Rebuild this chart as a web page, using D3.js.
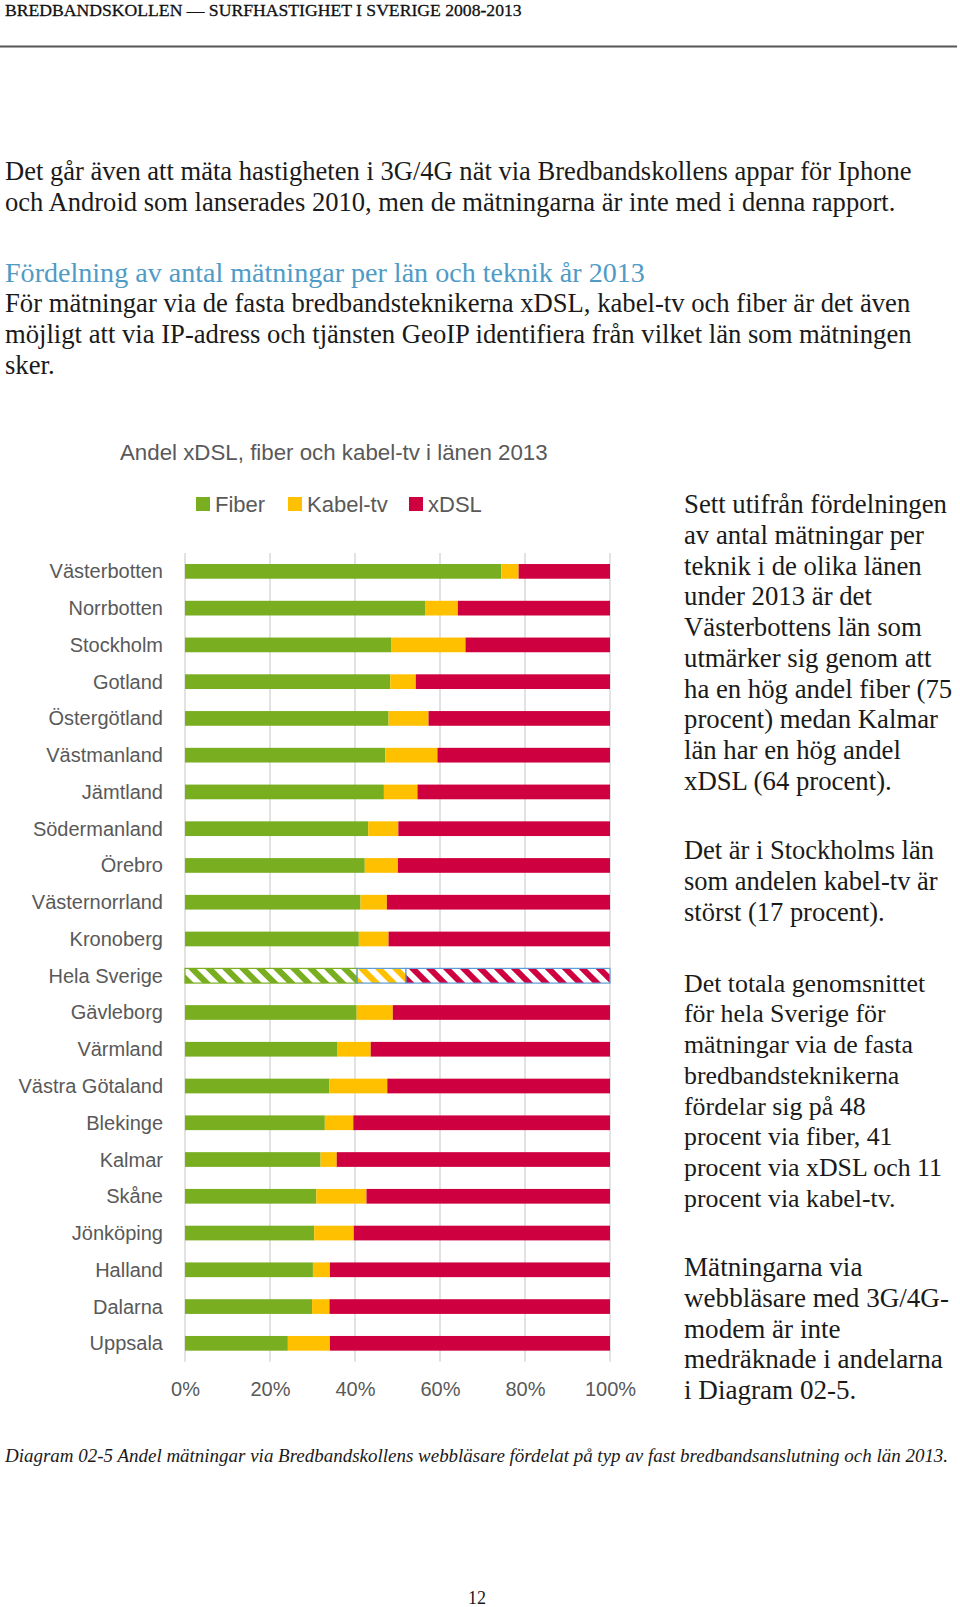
<!DOCTYPE html>
<html>
<head>
<meta charset="utf-8">
<script src="https://cdn.jsdelivr.net/npm/d3@7"></script>
<style>
  html, body { margin: 0; padding: 0; background: #fff; }
  svg { display: block; }
</style>
</head>
<body>
<svg id="page" width="960" height="1607"></svg>
<script>
// ---------- DATA ----------
const categories = ["Västerbotten","Norrbotten","Stockholm","Gotland","Östergötland","Västmanland","Jämtland","Södermanland","Örebro","Västernorrland","Kronoberg","Hela Sverige","Gävleborg","Värmland","Västra Götaland","Blekinge","Kalmar","Skåne","Jönköping","Halland","Dalarna","Uppsala"];
const fiber = [74.4,56.6,48.6,48.3,47.9,47.1,46.8,43.1,42.3,41.3,40.9,40.5,40.4,35.9,34.0,32.9,31.9,30.9,30.4,30.1,29.9,24.2];
const kabel = [4.1,7.6,17.4,6.0,9.4,12.3,7.9,7.1,7.8,6.2,7.0,11.5,8.5,7.8,13.6,6.7,3.8,11.8,9.3,4.0,4.1,9.9];
const xdsl  = [21.5,35.8,34.0,45.7,42.7,40.6,45.3,49.8,49.9,52.5,52.1,48.0,51.1,56.3,52.4,60.4,64.3,57.3,60.3,65.9,66.0,65.9];
const seriesNames = ["Fiber","Kabel-tv","xDSL"];
const seriesColors = ["#78ae20","#ffc000","#cf003f"];
const xTicks = [0,0.2,0.4,0.6,0.8,1.0];
const highlight = "Hela Sverige";

const headerText = "BREDBANDSKOLLEN — SURFHASTIGHET I SVERIGE 2008-2013";
const para1 = ["Det går även att mäta hastigheten i 3G/4G nät via Bredbandskollens appar för Iphone",
               "och Android som lanserades 2010, men de mätningarna är inte med i denna rapport."];
const heading = "Fördelning av antal mätningar per län och teknik år 2013";
const para2 = ["För mätningar via de fasta bredbandsteknikerna xDSL, kabel-tv och fiber är det även",
               "möjligt att via IP-adress och tjänsten GeoIP identifiera från vilket län som mätningen",
               "sker."];
const chartTitle = "Andel xDSL, fiber och kabel-tv i länen 2013";
const sideParas = [
  ["Sett utifrån fördelningen","av antal mätningar per","teknik i de olika länen","under 2013 är det","Västerbottens län som","utmärker sig genom att","ha en hög andel fiber (75","procent) medan Kalmar","län har en hög andel","xDSL (64 procent)."],
  ["Det är i Stockholms län","som andelen kabel-tv är","störst (17 procent)."],
  ["Det totala genomsnittet","för hela Sverige för","mätningar via de fasta","bredbandsteknikerna","fördelar sig på 48","procent via fiber, 41","procent via xDSL och 11","procent via kabel-tv."],
  ["Mätningarna via","webbläsare med 3G/4G-","modem är inte","medräknade i andelarna","i Diagram 02-5."]
];
const caption = "Diagram 02-5 Andel mätningar via Bredbandskollens webbläsare fördelat på typ av fast bredbandsanslutning och län 2013.";
const pageNumber = "12";

// ---------- PAGE ----------
const svg = d3.select("#page");
const SERIF = "'Liberation Serif','DejaVu Serif',serif";
const SANS = "'Liberation Sans',Arial,Helvetica,sans-serif";

function fitSize(textSel, target) {
  const w = textSel.node().getComputedTextLength();
  const fs = parseFloat(textSel.attr("font-size"));
  return fs * target / w;
}

// header
const hdr = svg.append("text").attr("x", 5).attr("y", 16)
  .attr("font-family", SERIF).attr("font-size", 18).attr("fill", "#111")
  .attr("stroke", "#111").attr("stroke-width", 0.3)
  .text(headerText);
hdr.attr("font-size", fitSize(hdr, 517));
svg.append("line").attr("x1", 0).attr("x2", 957).attr("y1", 46.5).attr("y2", 46.5)
  .attr("stroke", "#555").attr("stroke-width", 2);

function block(lines, x, y0, lh, color, refIndex, target) {
  const g = svg.append("g").attr("font-family", SERIF).attr("fill", color);
  const t = g.selectAll("text").data(lines).join("text")
    .attr("x", x).attr("y", (d, i) => y0 + i * lh)
    .attr("font-size", 24).text(d => d);
  const fs = fitSize(d3.select(t.nodes()[refIndex]), target);
  t.attr("font-size", fs);
  return g;
}
block(para1, 5, 180, 30.8, "#1a1a1a", 0, 907);
block([heading], 5, 282, 30.8, "#4f9bc6", 0, 640);
block(para2, 5, 312, 30.8, "#1a1a1a", 1, 907);

// right side text
const sideStarts = [513, 859, 991.5, 1276];
const sideRef = [0, 0, 6, 3];
const sideTarget = [263, 250, 258, 259];
sideParas.forEach((p, k) => {
  block(p, 684, sideStarts[k], 30.75, "#1a1a1a", sideRef[k], sideTarget[k]);
});

// caption
const cap = svg.append("text").attr("x", 5).attr("y", 1462)
  .attr("font-family", SERIF).attr("font-style", "italic").attr("font-size", 19)
  .attr("fill", "#1a1a1a").text(caption);
cap.attr("font-size", fitSize(cap, 944));

svg.append("text").attr("x", 477).attr("y", 1604).attr("text-anchor", "middle")
  .attr("font-family", SERIF).attr("font-size", 18).attr("fill", "#1a1a1a").text(pageNumber);

// ---------- CHART ----------
const title = svg.append("text").attr("x", 120).attr("y", 460)
  .attr("font-family", SANS).attr("font-size", 21).attr("fill", "#595959")
  .text(chartTitle);
title.attr("font-size", fitSize(title, 428));

// legend
const legendX = [196, 288, 409];
const lg = svg.append("g").attr("font-family", SANS).attr("font-size", 22).attr("fill", "#595959");
seriesNames.forEach((n, i) => {
  lg.append("rect").attr("x", legendX[i]).attr("y", 497).attr("width", 14).attr("height", 14)
    .attr("fill", seriesColors[i]);
  lg.append("text").attr("x", legendX[i] + 19).attr("y", 512).text(n);
});

const x = d3.scaleLinear().domain([0, 1]).range([185, 610]);
const y = d3.scaleBand().domain(categories).range([553, 1361.7]).paddingInner(0.6).paddingOuter(0.3);

// gridlines
svg.append("g").selectAll("line").data(xTicks).join("line")
  .attr("x1", d => x(d)).attr("x2", d => x(d))
  .attr("y1", 553).attr("y2", 1361.7)
  .attr("stroke", "#d9d9d9").attr("stroke-width", 1.5);

// hatch patterns for highlighted row
const defs = svg.append("defs");
seriesColors.forEach((c, i) => {
  const p = defs.append("pattern").attr("id", "hatch" + i)
    .attr("patternUnits", "userSpaceOnUse").attr("width", 12).attr("height", 12)
    .attr("patternTransform", "rotate(-45)");
  p.append("rect").attr("width", 12).attr("height", 12).attr("fill", "#fff");
  p.append("rect").attr("x", 0).attr("width", 6).attr("height", 12).attr("fill", c);
});

const rows = categories.map((c, i) => ({ cat: c, Fiber: fiber[i] / 100, "Kabel-tv": kabel[i] / 100, xDSL: xdsl[i] / 100 }));
const stacked = d3.stack().keys(seriesNames)(rows);

stacked.forEach((layer, si) => {
  svg.append("g").selectAll("rect").data(layer).join("rect")
    .attr("x", d => x(d[0]))
    .attr("y", d => y(d.data.cat))
    .attr("width", d => x(d[1]) - x(d[0]))
    .attr("height", y.bandwidth())
    .attr("fill", d => d.data.cat === highlight ? `url(#hatch${si})` : seriesColors[si])
    .attr("stroke", d => d.data.cat === highlight ? (si === 0 ? seriesColors[0] : "#5b9bd5") : "none")
    .attr("stroke-width", 1.2);
});

// category labels
svg.append("g").attr("font-family", SANS).attr("font-size", 20).attr("fill", "#595959")
  .selectAll("text").data(categories).join("text")
  .attr("x", 163).attr("y", d => y(d) + y.bandwidth() / 2)
  .attr("dy", "0.35em").attr("text-anchor", "end").text(d => d);

// x axis
const ax = svg.append("g").attr("transform", "translate(0,1380)")
  .call(d3.axisBottom(x).tickValues(xTicks).tickFormat(d3.format(".0%")).tickSize(0).tickPadding(0));
ax.select(".domain").remove();
ax.selectAll("text").attr("font-family", SANS).attr("font-size", 20).attr("fill", "#595959").attr("dy", "0.35em").attr("y", 9);
</script>
</body>
</html>
